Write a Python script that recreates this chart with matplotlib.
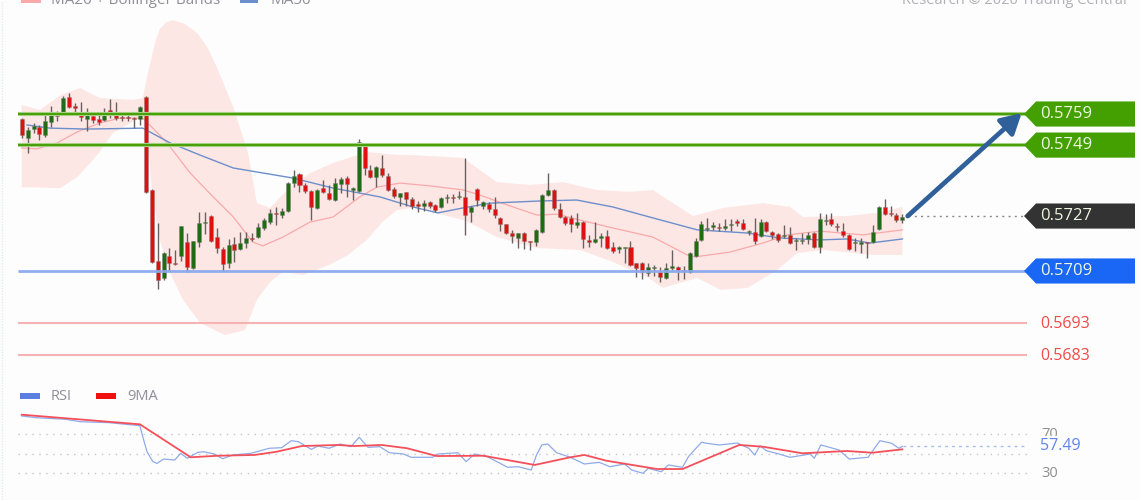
import numpy as np
import matplotlib
matplotlib.use("Agg")
import matplotlib.pyplot as plt
from matplotlib.patches import Polygon, Rectangle
from matplotlib.transforms import blended_transform_factory

# Price values are given in 1/10000 units (5759.0 = 0.5759)
opens = [5757.4,5751.3,5754.2,5754.8,5752.3,5756.4,5759.6,5759.6,5764.4,5761.5,
 5759.6,5757.4,5758.4,5757.4,5757.1,5760.3,5759.3,5758.0,5758.0,5757.7,
 5757.4,5764.4,5734.8,5712.2,5706.8,5713.8,5711.6,5713.8,5718.2,5710.0,
 5718.2,5724.3,5726.5,5719.8,5716.0,5711.6,5717.6,5716.0,5717.9,5719.5,
 5719.8,5722.7,5724.6,5727.5,5726.8,5728.1,5737.0,5739.9,5736.4,5734.5,
 5729.1,5735.4,5733.9,5731.6,5736.7,5738.6,5734.8,5734.5,5748.8,5741.2,
 5739.0,5741.8,5739.2,5735.1,5732.6,5734.2,5731.9,5730.3,5729.7,5731.0,
 5730.0,5729.4,5732.3,5732.6,5732.6,5732.6,5727.8,5735.1,5729.7,5730.3,
 5728.7,5725.9,5724.0,5721.1,5719.5,5721.1,5718.5,5718.2,5721.4,5733.2,
 5734.8,5728.7,5726.2,5725.9,5723.6,5724.6,5718.9,5718.2,5719.5,5720.1,
 5716.6,5716.0,5716.3,5716.6,5711.5,5711.5,5708.4,5710.0,5708.7,5706.8,
 5710.0,5710.3,5709.3,5708.7,5713.8,5718.9,5722.4,5723.0,5723.0,5722.7,
 5723.6,5724.9,5724.3,5721.4,5721.4,5720.1,5724.6,5721.4,5720.8,5720.1,
 5720.5,5718.5,5718.5,5719.2,5721.1,5716.6,5724.9,5725.6,5723.3,5721.7,
 5720.5,5717.9,5717.6,5718.2,5718.2,5722.4,5729.4,5727.5,5726.8,5725.2]
highs = [5757.7,5754.8,5756.1,5755.5,5759.0,5761.5,5760.0,5764.7,5765.7,5762.5,
 5762.8,5760.9,5759.3,5758.7,5760.9,5763.8,5762.8,5758.7,5758.7,5758.0,
 5761.5,5764.7,5735.0,5724.3,5715.0,5716.3,5715.7,5723.3,5721.1,5718.5,
 5727.8,5727.8,5726.8,5722.7,5716.6,5719.2,5719.8,5721.4,5721.4,5721.1,
 5724.3,5725.9,5728.7,5729.4,5729.1,5737.3,5741.2,5740.2,5737.0,5734.8,
 5735.1,5738.0,5736.4,5738.6,5738.9,5739.2,5735.7,5751.0,5749.1,5742.7,
 5742.4,5745.9,5740.2,5735.7,5733.8,5734.2,5732.6,5731.3,5731.6,5731.3,
 5730.3,5732.6,5733.5,5733.5,5734.5,5745.0,5729.7,5735.4,5731.3,5731.0,
 5732.6,5726.2,5724.0,5722.1,5721.1,5721.4,5718.5,5722.4,5733.5,5740.2,
 5735.1,5730.6,5726.5,5726.8,5727.5,5724.9,5720.5,5724.6,5721.1,5722.1,
 5718.2,5716.9,5716.6,5718.5,5711.5,5711.9,5711.5,5710.9,5710.3,5711.5,
 5715.7,5710.6,5710.6,5715.0,5719.5,5724.9,5725.9,5724.6,5724.3,5725.6,
 5725.6,5725.6,5725.6,5722.1,5725.9,5725.6,5724.9,5721.7,5721.1,5723.6,
 5723.0,5719.5,5721.1,5721.4,5721.4,5727.5,5727.2,5727.5,5724.3,5724.3,
 5720.8,5719.5,5719.5,5718.2,5723.6,5729.7,5732.0,5729.7,5727.5,5727.1]
lows = [5751.3,5746.6,5752.9,5750.7,5751.7,5754.8,5756.8,5759.3,5760.9,5759.6,
 5756.8,5753.6,5756.1,5755.5,5756.8,5757.7,5757.1,5756.8,5756.8,5754.5,
 5755.5,5733.9,5711.6,5703.3,5706.1,5709.0,5710.9,5712.2,5708.7,5709.6,
 5716.6,5720.8,5718.2,5714.7,5709.0,5710.0,5711.9,5715.7,5716.3,5718.5,
 5719.5,5722.1,5724.0,5723.6,5725.9,5727.8,5735.7,5734.2,5733.9,5725.2,
 5728.7,5733.9,5731.6,5731.3,5733.9,5732.6,5731.6,5734.2,5739.6,5738.6,
 5735.7,5739.0,5734.5,5732.2,5729.7,5729.7,5728.7,5727.8,5728.1,5729.1,
 5727.8,5729.1,5730.6,5730.6,5731.9,5720.5,5724.6,5729.7,5728.7,5727.8,
 5725.9,5721.7,5720.8,5717.9,5716.3,5716.0,5715.7,5717.0,5721.1,5732.9,
 5728.4,5725.9,5723.6,5721.4,5722.7,5716.3,5716.6,5717.9,5716.6,5716.0,
 5714.7,5714.7,5711.5,5710.6,5707.1,5706.4,5707.4,5707.4,5705.5,5706.4,
 5709.3,5706.1,5706.4,5708.4,5713.5,5718.5,5721.7,5722.1,5721.7,5722.1,
 5721.7,5723.3,5722.1,5720.5,5717.6,5719.8,5721.4,5719.2,5718.2,5719.5,
 5717.6,5715.7,5717.6,5717.6,5716.3,5714.7,5723.6,5723.3,5721.7,5719.8,
 5715.7,5715.4,5714.7,5713.1,5717.9,5722.1,5726.8,5726.5,5724.6,5724.3]
closes = [5752.3,5753.9,5755.2,5752.6,5756.8,5759.6,5758.4,5764.1,5761.2,5760.9,
 5758.0,5759.3,5757.1,5756.4,5759.6,5759.3,5757.7,5757.7,5757.7,5757.4,
 5761.2,5734.2,5711.9,5706.1,5714.7,5711.6,5711.2,5723.3,5710.3,5718.5,
 5724.3,5724.6,5718.5,5716.3,5711.2,5717.3,5715.7,5717.9,5719.5,5719.2,
 5723.0,5725.2,5727.5,5727.2,5728.1,5737.0,5739.2,5736.4,5734.5,5729.4,
 5734.8,5734.2,5731.9,5737.0,5738.3,5736.7,5735.4,5750.1,5741.8,5739.0,
 5742.1,5739.6,5734.8,5732.9,5733.8,5731.9,5729.7,5729.7,5730.6,5729.7,
 5728.4,5732.3,5732.6,5732.3,5732.9,5726.8,5729.4,5731.6,5731.0,5728.7,
 5726.8,5724.0,5721.1,5720.1,5721.1,5718.5,5718.2,5722.1,5733.2,5734.8,
 5729.1,5726.2,5724.3,5724.0,5724.6,5719.2,5718.2,5719.2,5720.1,5716.3,
 5715.4,5716.6,5716.6,5710.9,5709.9,5708.7,5710.3,5710.3,5707.1,5710.0,
 5710.6,5709.3,5709.0,5714.7,5718.5,5724.0,5722.7,5723.6,5722.7,5723.3,
 5724.0,5724.3,5722.4,5721.7,5718.5,5724.6,5721.7,5720.5,5718.9,5720.5,
 5718.0,5718.9,5718.9,5720.5,5716.6,5725.6,5725.2,5724.0,5723.0,5720.5,
 5716.0,5718.2,5718.2,5717.9,5721.4,5729.4,5727.1,5727.1,5725.2,5726.2]

upper_bar = [0,3.1,6.5,9.9,13.2,18.8,20.5,21.2,22.6,23.4,24.4,25.6,27.6,29.7,31.4,33,35.8,38.3,39.8,42,45.4,48.8,
 52.7,58.4,63.5,66.2,74.7,77.5,80.4,86,91.6,97.3,102.9,106.8,110.2,113.6,118.7,125.4,130,132.2,139.6,144.7,149]
upper_val = [5761.9,5760.3,5765.0,5767.3,5764.1,5763.5,5764.1,5770.8,5782.0,5786.1,5788.2,5788.9,5787.7,5784.8,5780.3,5774.0,5761.2,5746.6,5730.6,5729.1,5735.7,5740.2,
 5743.4,5746.9,5746.0,5745.9,5745.0,5741.2,5737.3,5736.4,5737.3,5734.8,5734.2,5734.8,5730.6,5726.5,5729.1,5730.6,5729.4,5726.2,5726.5,5727.5,5729.4]
lower_bar = [0,6.5,9.4,11.6,13.2,15.4,20.5,21.2,22,23.4,24.6,27.3,30.2,34.4,37.8,39.8,42,44.2,47.6,52.7,
 55.2,58.4,61,63.5,67.4,69.4,74.7,77.5,80.4,87.2,94.5,100,105.8,108.5,114.3,118.2,122.8,127.8,131.2,135.6,144,149]
lower_val = [5735.7,5735.4,5738.9,5743.4,5746.9,5752.9,5758.4,5755.5,5734.8,5718.9,5710.3,5699.8,5692.4,5688.6,5690.2,5699.8,5705.5,5708.7,5707.7,5711.5,
 5714.1,5718.9,5724.6,5728.4,5729.4,5727.8,5725.2,5722.7,5719.8,5716.3,5715.7,5711.9,5707.1,5703.6,5706.8,5703.0,5703.6,5709.3,5714.7,5715.7,5714.1,5714.1]
ma20_bar = [0,2.6,6,9.4,13.2,16.6,20.5,21.2,24.6,28.5,32.4,35.8,39.1,40.8,44.2,48.8,52.7,57.2,60.1,64,69.1,74.7,77.5,83.1,87.2,90.6,94.5,100,106.8,112.6,113.9,119.8,125.4,129.5,135.1,142.3,149]
ma20_val = [5748.2,5747.9,5749.8,5753.3,5756.1,5757.7,5757.7,5756.4,5749.8,5740.2,5732.6,5726.2,5718.2,5717.0,5719.8,5724.6,5726.2,5732.6,5735.7,5737.0,5736.1,5734.8,5733.2,5729.4,5726.8,5727.1,5725.2,5722.7,5719.8,5714.1,5713.5,5715.0,5717.9,5720.5,5721.7,5720.5,5722.1]
ma50_bar = [0.9,4.8,11,20.5,25.1,30.2,35.8,45.9,52.7,60.6,66.2,70.4,74.7,79.2,87.7,93.9,100,106.8,114.3,122.7,128.3,135.1,139.6,143.5,149]
ma50_val = [5755.5,5754.5,5754.2,5754.5,5749.8,5745.9,5741.8,5738.6,5735.4,5732.6,5729.4,5727.5,5729.1,5730.6,5731.3,5731.6,5729.4,5725.9,5722.1,5721.1,5719.5,5718.9,5719.2,5717.9,5719.2]

rsi_bar = [0,2.5,7.4,9.9,14.8,20,20.4,21.2,22.2,22.9,24,25.9,26.9,28,29.8,30.8,32.6,34,35.7,38.8,41.9,44,45.6,46.8,49,50.1,52,53.9,55.7,57.1,58.6,60.6,62.2,64.6,65.9,69.5,70.4,73.8,75.2,76.6,78.8,82.2,84,86.2,87.1,88,89,90.5,92.8,
 95.2,97.7,99.5,102,103.2,105.1,106,108.2,109.4,111.8,112.8,115,115.9,118,121.1,123,124,124.9,126,128.1,130,133.4,134.1,135.2,138.3,140,143.2,145.2,147.2,148.4,149]
rsi_val = [88.9,87.1,85.5,83,82,78.9,69.3,52,41.8,40,44.5,43.5,50.4,45.3,51.4,52,49.7,44.8,48.7,50.4,55.6,56.2,63.4,62.4,54.5,57.9,55.6,60,57.2,66.9,56.6,57.2,51,49.7,46.3,46.3,49.7,51,41.8,49.7,46.9,36,36.6,33.2,48.7,59,60,51,46.3,
 39.4,41.1,36.6,39.4,33.2,29.8,34.9,31.4,38.4,36,46.9,61.8,60.7,59,61,55.6,48.7,58.2,53.1,49.7,46.3,49.7,45.3,59,53.8,44.5,46.3,63.4,60.7,55.6,57.49]
ma9_bar = [0,20,28.6,33.2,39.4,43.1,47.4,53.5,56.3,60.9,65.2,70.2,78.1,86.8,92.8,95.2,98.9,107.5,111.8,121.4,125.4,132.1,139.6,143.9,149]
ma9_val = [90.2,80.3,46.3,47.9,48.7,52,57.9,59,57.9,59,55.6,47.6,47.9,38.4,46.3,48.7,42.8,34.2,34.2,59,57.2,50.4,52.8,51,54.5]

resistance_levels = [5759.0, 5749.1]
resistance_labels = ["0.5759", "0.5749"]
support_level = 5709.0
support_label = "0.5709"
last_level = 5726.5
last_label = "0.5727"
minor_levels = [5692.4, 5682.2]
minor_labels = ["0.5693", "0.5683"]
rsi_levels = [70, 50, 30]

W, H = 1140, 500
plt.rcParams["font.family"] = ["Open Sans", "DejaVu Sans"]
BG = "#fdfdfe"
fig = plt.figure(figsize=(W / 100, H / 100), dpi=100, facecolor=BG)
XLIM = (-3.67, 189.2)

ax = fig.add_axes([0, 0, 1, 1])
ax.set_xlim(*XLIM)
ax.set_ylim(5636.06 / 1e4, 5795.31 / 1e4)
ax.axis("off")
rx = fig.add_axes([0, 0, 1, 1])
rx.set_xlim(*XLIM)
rx.set_ylim(2.27, 517.7)
rx.axis("off")
rx.patch.set_alpha(0)

p = lambda v: np.asarray(v, dtype=float) / 1e4
tr = blended_transform_factory(ax.transAxes, ax.transData)
tr_r = blended_transform_factory(rx.transAxes, rx.transData)
fx = lambda px: px / W
fy = lambda py: 1 - py / H

# left edge hairline
ax.plot([fx(1.5)] * 2, [0, 1], transform=ax.transAxes, color="#e3eaf6", lw=1, ls=(0, (1, 1)))

# Bollinger band and averages
ax.fill(np.r_[upper_bar, lower_bar[::-1]], p(np.r_[upper_val, lower_val[::-1]]),
        color="#fde7e5", lw=0, zorder=1)
ax.plot(ma20_bar, p(ma20_val), color="#f9a9a9", lw=0.9, zorder=2)
ax.plot(ma50_bar, p(ma50_val), color="#6c8fcb", lw=1.0, zorder=2)

# candles
idx = np.arange(len(opens))
o, h, l, c = p(opens), p(highs), p(lows), p(closes)
ax.vlines(idx, l, h, color="#6a5f5f", lw=1.0, zorder=3)
cols = ["#1e6d12" if cc >= oo else "#de1111" for oo, cc in zip(o, c)]
ax.bar(idx, np.maximum(np.abs(c - o), 0.00003), bottom=np.minimum(o, c), width=0.68,
       color=cols, edgecolor="#77777780", lw=0.5, zorder=4)

# level lines
for lv in resistance_levels:
    ax.plot([fx(18), fx(1027)], [lv / 1e4] * 2, transform=tr, color="#b9dca0", lw=3.0, zorder=5,
            solid_capstyle="butt")
    ax.plot([fx(18), fx(1027)], [lv / 1e4] * 2, transform=tr, color="#4b9f08", lw=1.7, zorder=5,
            solid_capstyle="butt")
ax.plot([fx(18), fx(1027)], [support_level / 1e4] * 2, transform=tr, color="#8aa9ee", lw=2.0,
        zorder=5, alpha=0.95, solid_capstyle="butt")
for lv, lab in zip(minor_levels, minor_labels):
    ax.plot([fx(18), fx(1027)], [lv / 1e4] * 2, transform=tr, color="#f6b3b3", lw=1.5, zorder=5,
            solid_capstyle="butt")
    ax.text(fx(1040), (lv - 0.3) / 1e4, lab, transform=tr, color="#ee4b45", fontsize=11.5, va="center",
            ha="left", zorder=8)
ax.plot([fx(908), fx(1024)], [last_level / 1e4] * 2, transform=tr, color="#8a8a8a", lw=1.0,
        ls=(0, (1.5, 3)), zorder=5)


def tag(level, label, colour):
    y = level / 1e4
    dy = 4.0 / 1e4
    ax.add_patch(Polygon([(fx(1024), y), (fx(1036), y + dy), (fx(1135), y + dy),
                          (fx(1135), y - dy), (fx(1036), y - dy)],
                         closed=True, transform=tr, facecolor=colour, edgecolor="none", zorder=7))
    ax.text(fx(1040), y, label, transform=tr, color="#eef6e0", fontsize=12, va="center", ha="left",
            zorder=8)


for lv, lab in zip(resistance_levels, resistance_labels):
    tag(lv, lab, "#43a000")
tag(support_level, support_label, "#1a66f5")
tag(last_level, last_label, "#333333")

# projection arrow
ax.annotate("", xy=(149 + (1022 - 902.7) / 5.91, 5759.3 / 1e4),
            xytext=(149 + (908 - 902.7) / 5.91, 5726.5 / 1e4),
            arrowprops=dict(arrowstyle="-|>,head_length=0.75,head_width=0.42", color="#2f6099",
                            lw=3.4, mutation_scale=16, shrinkA=0, shrinkB=0),
            zorder=9)

# legends (the top one is cut by the figure's edge, as in the reference)
GREY = "#8f8f98"
ax.add_patch(Rectangle((fx(21), fy(3)), 20 / W, 0.01, transform=ax.transAxes, color="#f9a9a9", lw=0))
ax.text(fx(51), fy(0), "MA20 + Bollinger Bands", transform=ax.transAxes, color=GREY, fontsize=11,
        va="center", ha="left")
ax.add_patch(Rectangle((fx(240), fy(3)), 18 / W, 0.01, transform=ax.transAxes, color="#6c8fcb", lw=0))
ax.text(fx(270), fy(0), "MA50", transform=ax.transAxes, color=GREY, fontsize=11, va="center", ha="left")
ax.text(fx(1127), fy(0), "Research \u00a9 2020 Trading Central", transform=ax.transAxes, color="#b0b0b6",
        fontsize=10.5, va="center", ha="right")

# RSI panel
for lv in rsi_levels:
    rx.plot([fx(18), fx(1028)], [lv, lv], transform=tr_r, color="#c4c4cc", lw=1.0, ls=(0, (1, 4)), zorder=1)
rx.plot([fx(903), fx(1025)], [57.49, 57.49], transform=tr_r, color="#a6bcee", lw=1.0, ls=(0, (2, 3)), zorder=1)
rx.plot(rsi_bar, rsi_val, color="#8fabe8", lw=0.9, zorder=2)
rx.plot(ma9_bar, ma9_val, color="#f4505a", lw=1.3, zorder=3)

rx.add_patch(Rectangle((fx(20), fy(399)), 20 / W, 6 / H, transform=rx.transAxes, color="#5b7fe0", lw=0))
rx.text(fx(51), fy(396), "RSI", transform=rx.transAxes, color=GREY, fontsize=10.5, va="center", ha="left")
rx.add_patch(Rectangle((fx(96), fy(399)), 20 / W, 6 / H, transform=rx.transAxes, color="#f01010", lw=0))
rx.text(fx(127), fy(396), "9MA", transform=rx.transAxes, color=GREY, fontsize=10.5, va="center", ha="left")

for lv in rsi_levels:
    rx.text(fx(1041), lv, str(lv), transform=tr_r, color="#8f8f8f", fontsize=10.5, va="center", ha="left", zorder=4)
rx.text(fx(1040), 57.49, "57.49", transform=tr_r, color="#5f84ea", fontsize=11.5, va="center", ha="left",
        zorder=5, bbox=dict(facecolor=BG, edgecolor="none", pad=1.5))

fig.savefig("out.png", dpi=100, facecolor=BG)
